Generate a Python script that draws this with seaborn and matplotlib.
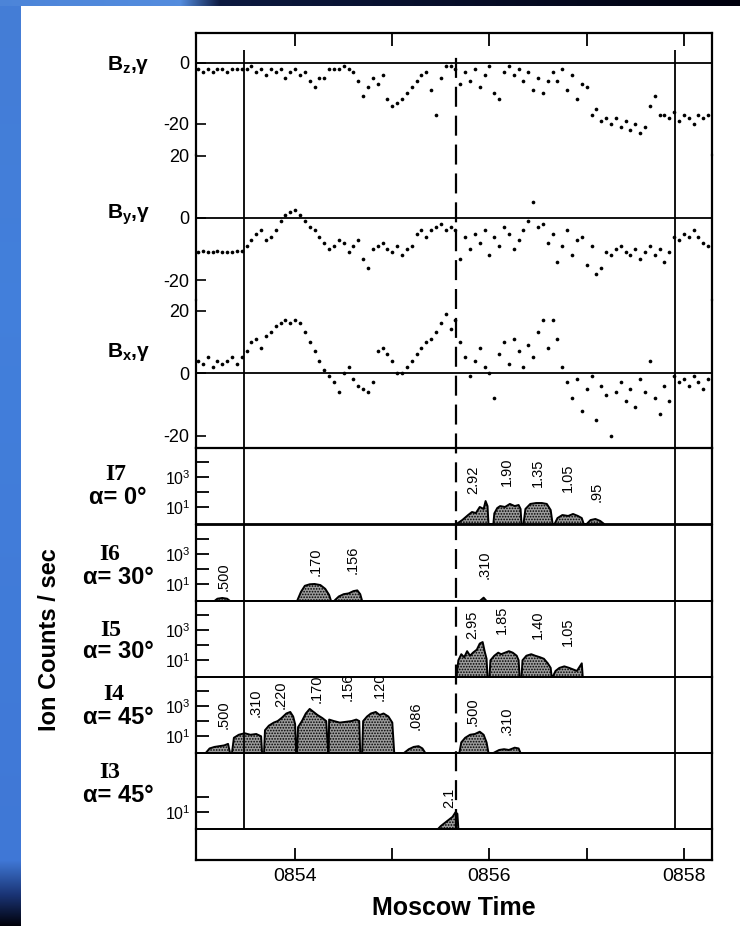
import numpy as np
import matplotlib
matplotlib.use("Agg")
import matplotlib.pyplot as plt
import seaborn as sns
from matplotlib.ticker import FixedLocator, FuncFormatter, NullLocator

sns.set_theme(style="white")
plt.rcParams['font.family'] = ['Liberation Sans', 'DejaVu Sans']
plt.rcParams['mathtext.fontset'] = 'custom'
plt.rcParams['mathtext.rm'] = 'Liberation Sans'
plt.rcParams['mathtext.bf'] = 'Liberation Sans:bold'
plt.rcParams['mathtext.it'] = 'Liberation Sans:italic'
plt.rcParams['axes.unicode_minus'] = False
plt.rcParams['hatch.linewidth'] = 0.8

# ---- magnetic field, gamma (one sample every 0.05 min from 08:53.00) ----
B_T0 = 853.00
B_STEP = 0.05
bz = [-2, -3, -2, -3, -2, -2, -3, -2, -2, -2,
      -2, -1, -3, -2, -4, -2, -3, -2, -5, -3, -2, -4, -3, -6,
      -8, -5, -5, -2, -2,
      -2, -1, -2, -3,
      -6, -11, -8, -5, -7, -4,
      -12, -14, -13,
      -12, -10, -8, -6, -4, -3,
      -9, -17, -5,
      -1, -1, -2,
      -7, -3, -6, -2, -8, -4,
      -1, -10, -12, -3,
      -1, -4, -2, -6, -3, -9,
      -5, -10, -6, -3,
      -6, -2, -9, -4, -12, -7, -8,
      -17, -15, -19, -18,
      -20, -18, -21, -19, -22, -20, -23, -21,
      -14, -11, -17,
      -17, -18, -16, -19, -17, -18, -20, -17, -18, -17]
by = [-11, -10.5, -11, -11, -10.5, -11, -11, -11, -10.5, -10.5,
      -9, -7, -5, -4, -7,
      -6, -4, -1, 1, 2, 2.5, 1,
      -1, -3, -4, -6, -8,
      -10, -9, -7, -8, -11, -9, -7,
      -13, -16, -10,
      -9, -8, -10, -11, -9, -12, -10, -9,
      -5, -4, -6, -4, -3, -2, -4,
      -3, -4, -13,
      -6, -10, -5, -8, -4, -12, -6, -9,
      -3, -5, -10, -7, -4,
      -1, 5, -3,
      -2, -8, -5, -14, -9, -4, -12, -7,
      -6, -15, -9, -18, -16, -11,
      -12, -10, -9, -11, -12, -10, -13, -11, -9, -12, -10, -14, -11,
      -6, -7, -5, -6, -4, -6, -8, -9]
bx = [4, 3, 5, 2, 4, 3, 4, 5, 3, 5,
      7, 10, 11, 8, 12, 13,
      15, 16, 17, 16, 17, 16,
      13, 10, 7, 4, 1,
      -1, -3, -6, 0, 2, -2, -4, -5, -6, -3,
      7, 8, 6, 4,
      0, 0,
      2, 4, 6, 8, 10, 11, 13,
      16, 19, 14, 17,
      10, 5, -1, 4, 8, 2, 0, -8,
      6, 10, 3, 11, 7, 2, 9, 5,
      13, 17, 8, 17, 11,
      2, -3, -8, -2, -12, -5, -1, -15,
      -4, -7, -20, -6, -3, -9, -5, -11, -2, -6, 4, -8, -13, -4, -9,
      -1, -3, -2, -4, -1, -3, -5, -2]

# ---- ion counts: time (min) and log10(counts/sec) outlines ----
i7_t = [855.66, 855.72, 855.78, 855.82, 855.86, 855.90, 855.94, 855.96, 855.98, 855.99,
        856.04, 856.05, 856.08, 856.11, 856.16, 856.21, 856.26, 856.30, 856.32, 856.33,
        856.35, 856.37, 856.42, 856.48, 856.54, 856.59, 856.63, 856.65,
        856.67, 856.70, 856.75, 856.81, 856.86, 856.91, 856.95, 856.97,
        857.00, 857.04, 857.09, 857.14, 857.18]
i7_lg = [-0.1, 0.16, 0.49, 0.69, 0.62, 1.02, 0.89, 1.41, 1.08, -0.1,
         -0.1, 0.6, 0.95, 1.08, 1.02, 1.22, 1.08, 1.15, 0.89, -0.1,
         -0.1, 0.89, 1.22, 1.28, 1.28, 1.22, 0.82, -0.1,
         -0.1, 0.29, 0.49, 0.43, 0.56, 0.43, 0.29, -0.1,
         -0.1, 0.16, 0.23, 0.10, -0.1]
i7_tags = ["2.92", "1.90", "1.35", "1.05", ".95"]
i7_tag_t = [855.83, 856.18, 856.50, 856.81, 857.10]
i7_tag_lg = [1.87, 2.4, 2.33, 2.0, 1.35]

i6_t = [853.17, 853.20, 853.25, 853.30, 853.33,
        854.02, 854.06, 854.10, 854.15, 854.20, 854.26, 854.31, 854.35, 854.37,
        854.40, 854.45, 854.50, 854.55, 854.60, 854.64, 854.67, 854.69,
        855.90, 855.94, 855.97]
i6_lg = [-0.1, 0.05, 0.1, 0.05, -0.1,
         -0.1, 0.5, 0.9, 1.0, 1.02, 0.95, 0.7, 0.3, -0.1,
         -0.1, 0.2, 0.35, 0.4, 0.55, 0.6, 0.35, -0.1,
         -0.1, 0.12, -0.1]
i6_tags = [".500", ".170", ".156", ".310"]
i6_tag_t = [853.26, 854.21, 854.59, 855.95]
i6_tag_lg = [0.56, 1.54, 1.68, 1.35]

i5_t = [855.66, 855.68, 855.71, 855.74, 855.77, 855.80, 855.83, 855.87, 855.90, 855.93, 855.95, 855.97, 855.98,
        856.00, 856.01, 856.05, 856.09, 856.12, 856.16, 856.20, 856.24, 856.28, 856.30, 856.31,
        856.33, 856.34, 856.38, 856.43, 856.47, 856.52, 856.56, 856.60, 856.63, 856.64,
        856.65, 856.68, 856.72, 856.77, 856.82, 856.86, 856.90, 856.93, 856.95, 856.96]
i5_lg = [-0.1, 1.0, 1.4, 1.2, 1.6, 1.3, 1.5, 1.7, 2.1, 2.2, 1.6, 1.1, -0.1,
         -0.1, 1.0, 1.3, 1.5, 1.4, 1.5, 1.6, 1.5, 1.3, 1.0, -0.1,
         -0.1, 1.0, 1.3, 1.4, 1.3, 1.2, 1.1, 0.8, 0.5, -0.1,
         -0.1, 0.3, 0.5, 0.6, 0.5, 0.4, 0.3, 0.6, 0.8, -0.1]
i5_tags = ["2.95", "1.85", "1.40", "1.05"]
i5_tag_t = [855.82, 856.13, 856.50, 856.81]
i5_tag_lg = [2.4, 2.73, 2.4, 1.94]

i4_t = [853.08, 853.12, 853.17, 853.22, 853.27, 853.31, 853.33,
        853.35, 853.37, 853.42, 853.48, 853.54, 853.60, 853.65, 853.66,
        853.68, 853.69, 853.73, 853.78, 853.82, 853.86, 853.91, 853.95, 853.98, 854.00, 854.01,
        854.02, 854.03, 854.07, 854.11, 854.15, 854.19, 854.23, 854.28, 854.32, 854.34,
        854.345, 854.35, 854.40, 854.46, 854.52, 854.58, 854.63, 854.66, 854.67,
        854.69, 854.70, 854.74, 854.78, 854.83, 854.87, 854.91, 854.96, 855.00, 855.02,
        855.12, 855.17, 855.22, 855.27, 855.31, 855.34,
        855.69, 855.71, 855.75, 855.80, 855.85, 855.90, 855.94, 855.97, 855.99,
        856.04, 856.10, 856.15, 856.20, 856.26, 856.30, 856.32]
i4_lg = [-0.1, 0.2, 0.3, 0.35, 0.4, 0.5, -0.1,
         -0.1, 0.9, 1.1, 1.2, 1.1, 1.15, 1.0, -0.1,
         -0.1, 1.4, 1.7, 1.9, 2.0, 2.2, 2.5, 2.6, 2.3, 1.8, -0.1,
         -0.1, 1.6, 2.0, 2.5, 2.8, 2.6, 2.4, 2.2, 2.0, -0.1,
         -0.1, 2.1, 2.0, 1.9, 1.95, 2.0, 2.1, 2.0, -0.1,
         -0.1, 2.0, 2.3, 2.5, 2.6, 2.4, 2.5, 2.3, 1.9, -0.1,
         -0.1, 0.15, 0.3, 0.35, 0.2, -0.1,
         -0.1, 0.6, 0.9, 1.1, 1.15, 1.3, 1.1, 0.6, -0.1,
         -0.1, 0.1, 0.15, 0.1, 0.25, 0.2, -0.1]
i4_tags = [".500", ".310", ".220", ".170", ".156", ".120", ".086", ".500", ".310"]
i4_tag_t = [853.26, 853.59, 853.85, 854.22, 854.54, 854.87, 855.24, 855.83, 856.18]
i4_tag_lg = [1.48, 2.27, 2.8, 3.2, 3.3, 3.3, 1.41, 1.68, 1.08]

i3_t = [855.47, 855.50, 855.54, 855.58, 855.62, 855.65, 855.67, 855.68]
i3_lg = [-0.1, 0.1, 0.3, 0.5, 0.7, 1.0, 0.9, -0.1]
i3_tags = ["2.1"]
i3_tag_t = [855.59]
i3_tag_lg = [1.28]

channel_names = ["I7", "I6", "I5", "I4", "I3"]
pitch_angles = ["α= 0°", "α= 30°", "α= 30°", "α= 45°", "α= 45°"]

boundary_times = [853.47, 857.91]
front_time = 855.66

# ---- layout (figure pixels) ----
W, H = 740, 926
X0, X1 = 196, 712
XLIM = (852.98, 858.29)


def rect(top, bottom):
    return [X0 / W, 1 - bottom / H, (X1 - X0) / W, (bottom - top) / H]


fig = plt.figure(figsize=(W / 100, H / 100), dpi=100)

# slide background: blue strips on the left and top, white sheet
img = np.ones((H, W, 3))
rows = np.arange(H)
left_col = np.stack([np.interp(rows, [0, 300, 860, 895, H], c) for c in
                     ([0.27, 0.26, 0.25, 0.10, 0.0], [0.49, 0.50, 0.47, 0.20, 0.0],
                      [0.84, 0.86, 0.84, 0.45, 0.03])], axis=1)
img[:, :21, :] = left_col[:, None, :]
cols = np.arange(W)
top_row = np.stack([np.interp(cols, [0, 180, 220, W], c) for c in
                    ([0.30, 0.33, 0.05, 0.0], [0.52, 0.55, 0.10, 0.0], [0.85, 0.87, 0.25, 0.05])], axis=1)
img[:6, :, :] = top_row[None, :, :]
bg = fig.add_axes([0, 0, 1, 1])
bg.imshow(img, aspect='auto', interpolation='bilinear')
bg.axis('off')

t_b = B_T0 + B_STEP * np.arange(len(bz))

mag_panels = [
    ("B_z", bz, 33, 155, (-30.2, 9.8), [0, -20], 65),
    ("B_y", by, 155, 300, (-26.3, 20.2), [20, 0, -20], 215),
    ("B_x", bx, 300, 448, (-24.0, 23.4), [20, 0, -20], 352),
]
for i, (name, vals, top, bottom, ylim, ticks, label_y) in enumerate(mag_panels):
    ax = fig.add_axes(rect(top, bottom))
    ax.set_facecolor('none')
    sns.scatterplot(x=t_b, y=vals, ax=ax, color='black', s=7, marker='o',
                    linewidth=0, legend=False)
    ax.axhline(0, color='black', lw=1.3)
    ax.set_xlim(XLIM)
    ax.set_ylim(ylim)
    ax.set_yticks(ticks)
    ax.set_yticklabels([str(v) for v in ticks])
    ax.tick_params(axis='y', direction='in', left=True, length=7, width=1.2,
                   labelsize=13, pad=5, colors='black')
    for s in ax.spines.values():
        s.set_color('black')
        s.set_linewidth(1.6)
    ax.spines['top'].set_visible(i == 0)
    ax.spines['bottom'].set_visible(i == 2)
    if i == 0:
        ax.set_xticks([854, 855, 856, 857, 858])
        ax.tick_params(axis='x', top=True, bottom=False, direction='in', length=9,
                       width=1.3, labeltop=False, labelbottom=False, colors='black')
    else:
        ax.set_xticks([])
    ax.set_xlabel('')
    ax.set_ylabel('')
    fig.text(150 / W, 1 - label_y / H, r'$\mathbf{%s}$,γ' % name, ha='right', va='center',
             fontsize=15, fontweight='bold', color='black')

ion_panels = [
    (i7_t, i7_lg, i7_tags, i7_tag_t, i7_tag_lg),
    (i6_t, i6_lg, i6_tags, i6_tag_t, i6_tag_lg),
    (i5_t, i5_lg, i5_tags, i5_tag_t, i5_tag_lg),
    (i4_t, i4_lg, i4_tags, i4_tag_t, i4_tag_lg),
    (i3_t, i3_lg, i3_tags, i3_tag_t, i3_tag_lg),
]
ION_YLIM = (10 ** -0.1, 10 ** 4.9)
ion_tops = [448, 525, 601, 677, 753]
ion_label_x = [116, 110, 111, 114, 110]
ion_label_y = [475, 555, 630, 695, 773]
fmt = FuncFormatter(lambda v, p: r'$10^{%d}$' % round(np.log10(v)) if round(np.log10(v)) in (1, 3) else '')
for k, (t, lg, tags, tag_t, tag_lg) in enumerate(ion_panels):
    top = ion_tops[k]
    ax = fig.add_axes(rect(top, top + 76))
    ax.set_facecolor('none')
    ax.set_yscale('log')
    counts = 10 ** np.array(lg)
    ax.fill_between(t, counts, ION_YLIM[0], facecolor='#9c9c9c', edgecolor='black',
                    hatch='......', linewidth=0)
    sns.lineplot(x=t, y=counts, ax=ax, color='black', lw=1.4, estimator=None, sort=False)
    for s_txt, st, sl in zip(tags, tag_t, tag_lg):
        ax.text(st, 10 ** sl, s_txt, rotation=90, ha='center', va='bottom', fontsize=10.5,
                color='black')
    ax.set_xlim(XLIM)
    ax.set_ylim(ION_YLIM)
    ax.set_xticks([])
    ticks = [10.0, 100.0, 1000.0, 10000.0] if k != 4 else [10.0, 100.0]
    ax.yaxis.set_major_locator(FixedLocator(ticks))
    ax.yaxis.set_minor_locator(NullLocator())
    ax.yaxis.set_major_formatter(fmt)
    ax.tick_params(axis='y', direction='in', left=True, length=9, width=1.3,
                   labelsize=11.5, pad=4, colors='black')
    for s in ax.spines.values():
        s.set_color('black')
        s.set_linewidth(1.6)
    ax.spines['top'].set_linewidth(1.3)
    ax.spines['bottom'].set_linewidth(1.3)
    ax.set_xlabel('')
    ax.set_ylabel('')
    fig.text(ion_label_x[k] / W, 1 - ion_label_y[k] / H, channel_names[k], ha='center',
             va='center', fontsize=17, fontweight='bold', family='Liberation Serif',
             color='black')
    fig.text(118 / W, 1 - (ion_label_y[k] + 22) / H, pitch_angles[k], ha='center',
             va='center', fontsize=17, fontweight='bold', color='black')

# bottom strip with time axis
axb = fig.add_axes(rect(829, 860))
axb.set_facecolor('none')
axb.set_xlim(XLIM)
axb.set_yticks([])
axb.xaxis.set_major_locator(FixedLocator([854, 856, 858]))
axb.xaxis.set_minor_locator(FixedLocator([855, 857]))
axb.xaxis.set_major_formatter(FuncFormatter(lambda v, p: '%04d' % round(v)))
axb.tick_params(axis='x', which='both', direction='in', bottom=True, length=9, width=1.3,
                labelsize=14, pad=6, colors='black')
for s in axb.spines.values():
    s.set_color('black')
    s.set_linewidth(1.6)
axb.spines['top'].set_linewidth(1.3)
axb.set_xlabel('Moscow Time', fontsize=18, fontweight='bold', labelpad=8, color='black')

# event lines through all panels
axo = fig.add_axes(rect(50, 829))
axo.set_xlim(XLIM)
axo.axis('off')
for bt in boundary_times:
    axo.axvline(bt, color='black', lw=1.3)
axo.axvline(front_time, color='black', lw=1.6, dashes=(9, 4))

fig.text(50 / W, 1 - 640 / H, 'Ion Counts / sec', rotation=90, ha='center', va='center',
         fontsize=17, fontweight='bold', color='black')

fig.savefig('out.png', dpi=100)
